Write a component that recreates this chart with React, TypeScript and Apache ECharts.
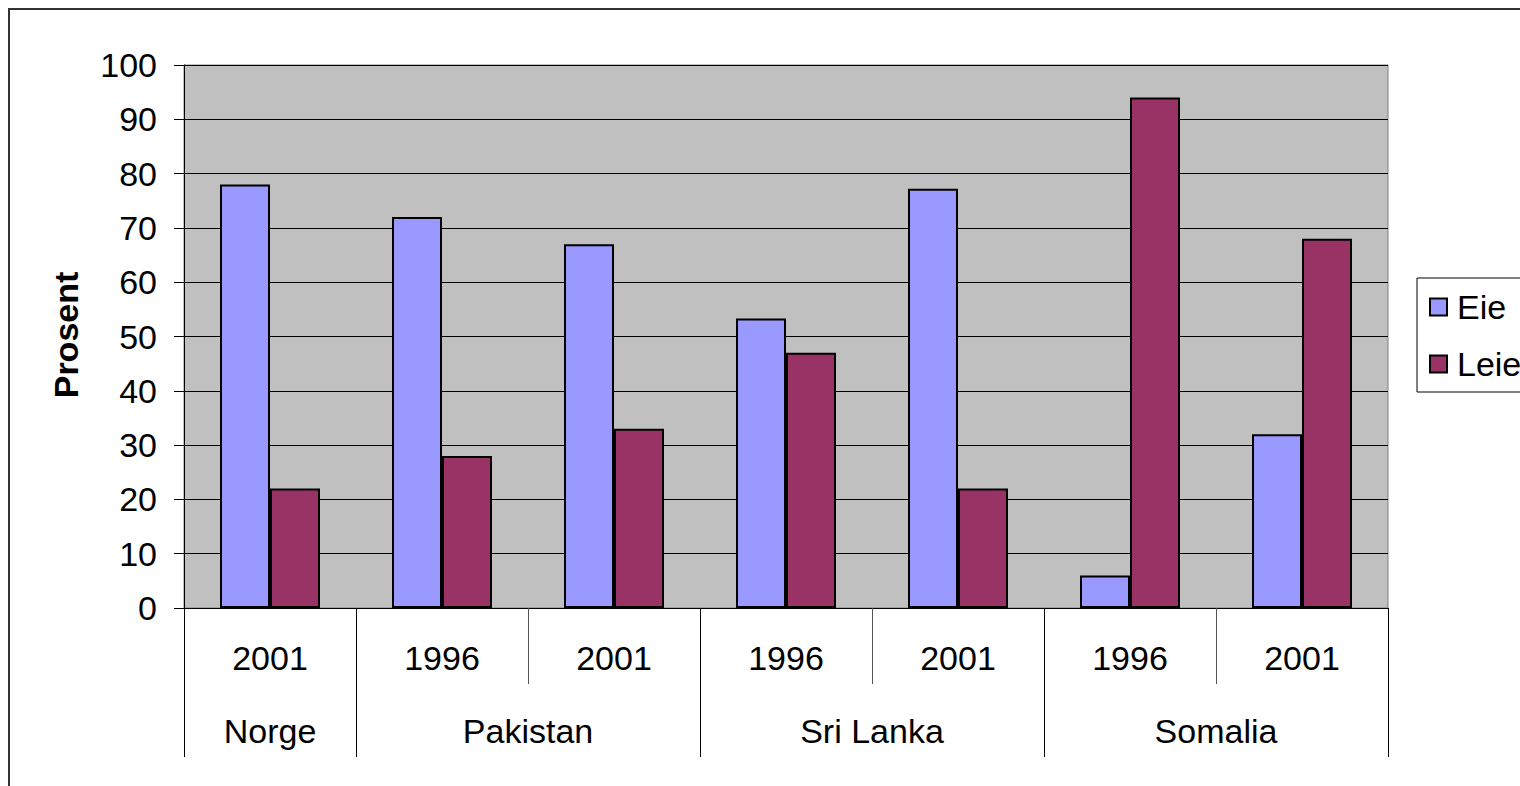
import React, { useEffect, useRef } from "react";
import * as echarts from "echarts";

const years = ["2001", "1996", "2001", "1996", "2001", "1996", "2001"];
const countryPoints = ["", "Norge", "", "", "Pakistan", "", "", "", "Sri Lanka", "", "", "", "Somalia", "", ""];
const groupBoundaries = [0, 2, 6, 10, 14];
const eie = [78, 72, 67, 53.3, 77.2, 6, 32];
const leie = [22, 28, 33, 47, 22, 94, 68];
const seriesNames = ["Eie", "Leie"];
const yTicks = { min: 0, max: 100, interval: 10 };

const FONT = "'Liberation Sans', Arial, sans-serif";
const FS = 34;

export default function App() {
  const ref = useRef<HTMLDivElement>(null);
  useEffect(() => {
    if (!ref.current) return;
    const chart = echarts.init(ref.current, undefined, { renderer: "svg" });
    chart.setOption({
      animation: false,
      backgroundColor: "#ffffff",
      textStyle: { fontFamily: FONT },
      grid: {
        left: 184,
        top: 65,
        width: 1204,
        height: 543,
        show: true,
        backgroundColor: "#C0C0C0",
        borderColor: "#808080",
        borderWidth: 1,
      },
      legend: {
        orient: "vertical",
        left: 1417,
        top: 278,
        padding: [12, 10, 11, 12],
        borderColor: "#000",
        borderWidth: 1,
        backgroundColor: "#fff",
        itemWidth: 17,
        itemHeight: 17,
        itemGap: 23,
        icon: "rect",
        textStyle: { fontSize: FS, lineHeight: 34, color: "#000", fontFamily: FONT, padding: [0, 0, 0, 5] },
        data: seriesNames,
      },
      xAxis: [
        {
          type: "category",
          data: years,
          position: "bottom",
          gridIndex: 0,
          axisLine: { show: true, lineStyle: { color: "#000", width: 1 } },
          axisTick: { show: true, length: 76, lineStyle: { color: "#555", width: 1 } },
          axisLabel: { fontSize: FS, color: "#000", margin: 33, fontFamily: FONT },
          splitLine: { show: false },
        },
        {
          type: "category",
          data: countryPoints,
          position: "bottom",
          offset: 0,
          gridIndex: 0,
          boundaryGap: false,
          axisLine: { show: false },
          axisTick: {
            show: true,
            length: 149,
            interval: (i: number) => groupBoundaries.includes(i),
            lineStyle: { color: "#000", width: 1 },
          },
          axisLabel: {
            fontSize: FS,
            color: "#000",
            margin: 106,
            interval: 0,
            fontFamily: FONT,
          },
          splitLine: { show: false },
        },
      ],
      yAxis: {
        type: "value",
        min: yTicks.min,
        max: yTicks.max,
        interval: yTicks.interval,
        axisLine: { show: true, lineStyle: { color: "#000", width: 1 } },
        axisTick: { show: true, length: 10, lineStyle: { color: "#000" } },
        axisLabel: { fontSize: FS, color: "#000", margin: 27, fontFamily: FONT },
        splitLine: { show: true, lineStyle: { color: "#000", width: 1 } },
      },
      series: [
        {
          name: seriesNames[0],
          type: "bar",
          xAxisIndex: 0,
          data: eie,
          barWidth: 50,
          barGap: "0%",
          itemStyle: { color: "#9999FF", borderColor: "#000", borderWidth: 2 },
        },
        {
          name: seriesNames[1],
          type: "bar",
          xAxisIndex: 0,
          data: leie,
          barWidth: 50,
          barGap: "0%",
          itemStyle: { color: "#993366", borderColor: "#000", borderWidth: 2 },
        },
      ],
      graphic: [
        {
          type: "line",
          shape: { x1: 8, y1: 9, x2: 1520, y2: 9 },
          style: { stroke: "#333", lineWidth: 2 },
        },
        {
          type: "line",
          shape: { x1: 9, y1: 8, x2: 9, y2: 786 },
          style: { stroke: "#333", lineWidth: 2 },
        },
        {
          type: "text",
          x: 66,
          y: 335,
          rotation: Math.PI / 2,
          style: {
            text: "Prosent",
            fontSize: FS,
            fontWeight: "bold",
            fontFamily: FONT,
            fill: "#000",
            align: "center",
            verticalAlign: "middle",
          },
        },
      ],
    });
    return () => chart.dispose();
  }, []);
  return (
    <div
      ref={ref}
      style={{ position: "absolute", left: 0, top: 0, width: 1520, height: 786 }}
    />
  );
}
